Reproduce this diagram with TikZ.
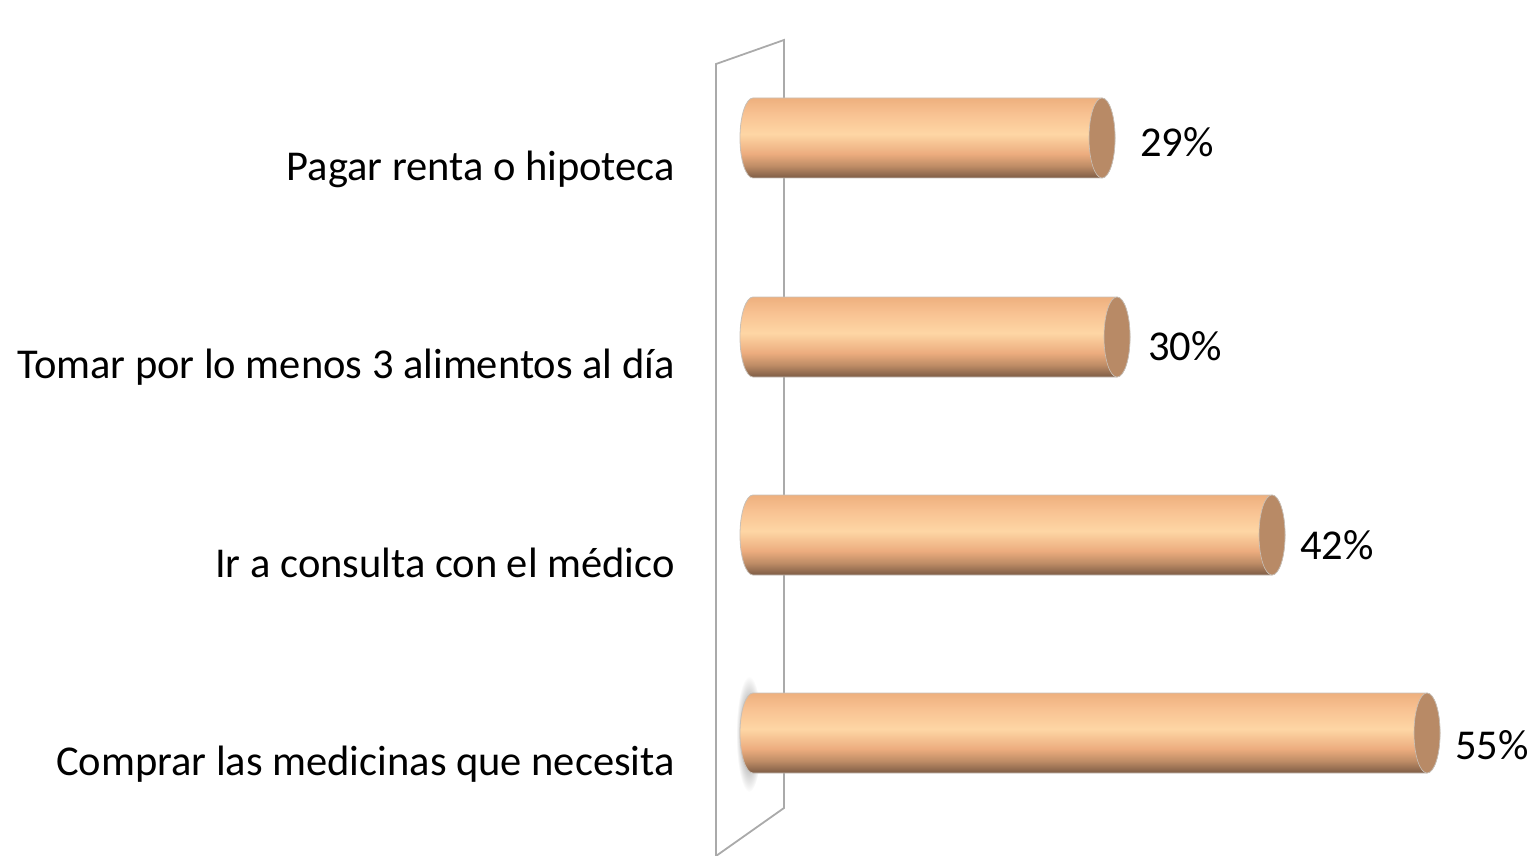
\documentclass[tikz,border=0pt]{standalone}
\usepackage{fontspec}
\setmainfont{Carlito}
\usetikzlibrary{shapes.geometric}
\definecolor{capCol}{RGB}{184,138,102}
\definecolor{wallCol}{RGB}{170,170,170}
\definecolor{edgeCol}{RGB}{200,192,184}
\definecolor{shadowCol}{RGB}{110,110,110}
\pgfdeclareverticalshading{barshade}{100bp}{%
  rgb(0bp)=(0.49,0.36,0.27);
  rgb(25bp)=(0.49,0.36,0.27);
  rgb(32.5bp)=(0.745,0.55,0.40);
  rgb(40bp)=(0.925,0.675,0.495);
  rgb(52.5bp)=(0.996,0.84,0.645);
  rgb(65bp)=(0.973,0.76,0.573);
  rgb(75bp)=(0.933,0.69,0.494);
  rgb(100bp)=(0.933,0.69,0.494)}
\tikzset{
  catlabel/.style={anchor=base east, font=\fontsize{42.5}{46}\selectfont, inner sep=0pt},
  pctlabel/.style={anchor=base west, font=\fontsize{42.5}{46}\selectfont, inner sep=0pt},
  wall/.style={draw=wallCol, line width=1.8pt},
  barbody/.style={draw=edgeCol, line width=0.8pt, shading=barshade},
  barcap/.style={fill=capCol, draw=edgeCol, line width=0.6pt}
}
\newcommand{\mybar}[3]{% name, right edge x, center y
  \path[barbody] (753,#3-40) -- (#2-13,#3-40) arc[start angle=270,end angle=450,x radius=13,y radius=40] -- (753,#3+40) arc[start angle=90,end angle=270,x radius=13,y radius=40] -- cycle;
  \node[barcap, ellipse, minimum width=26pt, minimum height=80pt, inner sep=0pt] (#1) at (#2-13,#3) {};
}
\begin{document}
\begin{tikzpicture}[x=1pt,y=-1pt]
\useasboundingbox (0,0) rectangle (1532,856);
% wall
\coordinate (wTL) at (716,64);
\coordinate (wTR) at (784,40);
\coordinate (wBR) at (784,808);
\coordinate (wBL) at (716,856);
\draw[wall] (wBL) -- (wTL) -- (wTR) -- (wBR) -- (wBL);
% shadow at left end of bar 4
\shade[inner color=shadowCol, outer color=white] (749,734) ellipse[x radius=13, y radius=58];
% bars
\mybar{b1}{1115}{138}
\mybar{b2}{1130}{337}
\mybar{b3}{1285}{535}
\mybar{b4}{1440}{733}
% category labels
\node[catlabel] (l1) at (675,180) {Pagar renta o hipoteca};
\node[catlabel] (l2) at (675,378) {Tomar por lo menos 3 alimentos al día};
\node[catlabel] (l3) at (675,577) {Ir a consulta con el médico};
\node[catlabel] (l4) at (675,775) {Comprar las medicinas que necesita};
% values
\node[pctlabel] (p1) at (1140,157) {29\%};
\node[pctlabel] (p2) at (1148,360) {30\%};
\node[pctlabel] (p3) at (1300,559) {42\%};
\node[pctlabel] (p4) at (1455,759) {55\%};
\end{tikzpicture}
\end{document}
